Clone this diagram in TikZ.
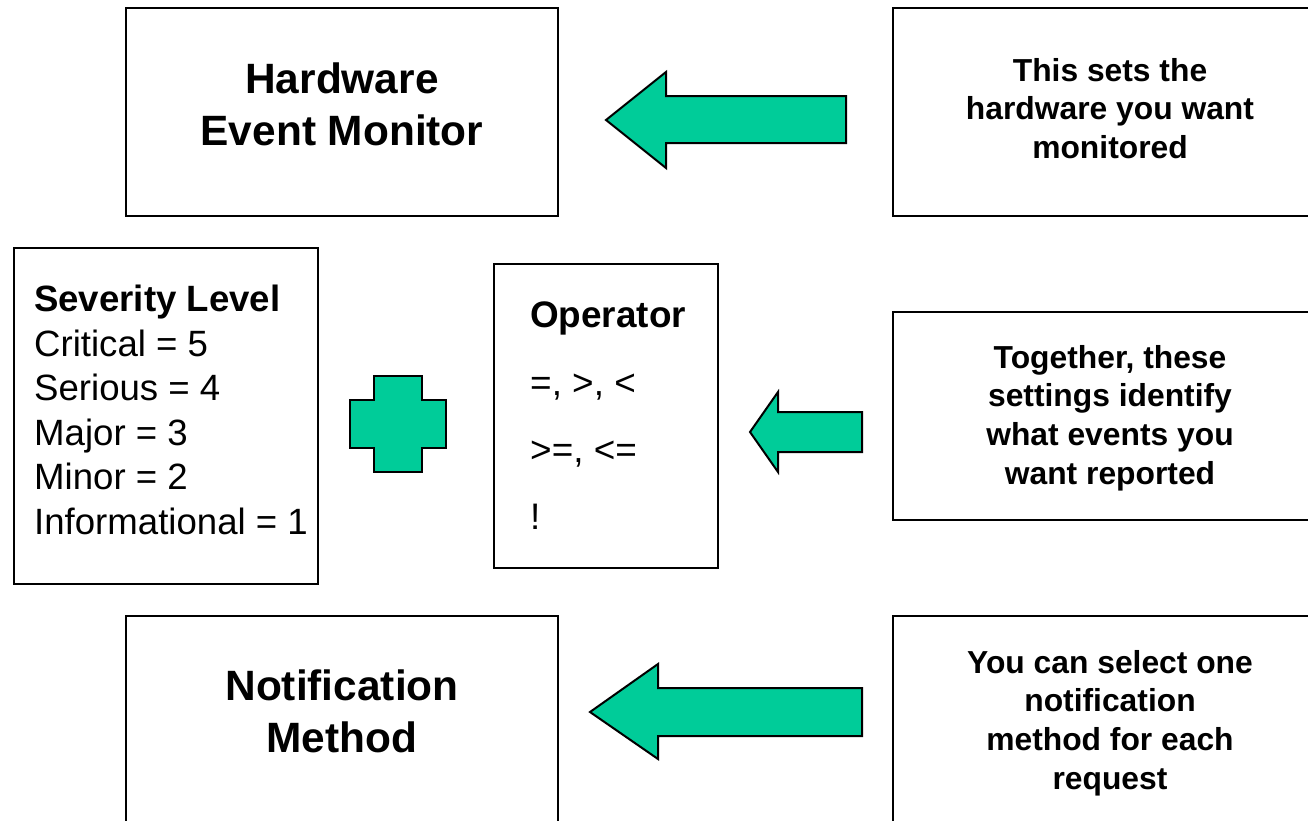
\documentclass[tikz,border=0pt]{standalone}
\usepackage{fontspec}
\setmainfont{Liberation Sans}
\definecolor{arrowgreen}{RGB}{0,204,153}
\tikzset{
  box/.style={draw=black, line width=2pt, fill=white, inner sep=0pt, minimum height=208pt},
  bigtxt/.style={align=center, inner sep=0pt, font=\fontsize{42.4}{52}\selectfont\bfseries},
  sidetxt/.style={align=center, inner sep=0pt, font=\fontsize{31.8}{38.7}\selectfont\bfseries},
  blockarrow/.style={draw=black, line width=2pt, fill=arrowgreen, line join=miter},
}
\begin{document}
\begin{tikzpicture}[x=1pt,y=-1pt]
\useasboundingbox (0,0) rectangle (1308,820);
\clip (0,0) rectangle (1308,820);
\fill[white] (0,0) rectangle (1308,820);
% boxes
\node[box, minimum width=432pt] (hem) at (342,112) {};
\node[box, minimum width=433pt] (tr) at (1109.5,112) {};
\node[box, minimum width=304pt, minimum height=336pt] (sev) at (166,416) {};
\node[box, minimum width=224pt, minimum height=304pt] (op) at (606,416) {};
\node[box, minimum width=433pt] (mr) at (1109.5,416) {};
\node[box, minimum width=432pt] (nm) at (342,720) {};
\node[box, minimum width=433pt] (br) at (1109.5,720) {};
% texts
\node[bigtxt] (hemt) at (342,104) {Hardware\\Event Monitor};
\node[bigtxt] (nmt) at (342,711) {Notification\\Method};
\node[sidetxt] (trt) at (1110,108.5) {This sets the\\hardware you want\\monitored};
\node[sidetxt] (mrt) at (1110,418) {Together, these\\settings identify\\what events you\\want reported};
\node[sidetxt] (brt) at (1110,723) {You can select one\\notification\\method for each\\request};
\node[anchor=north west, inner sep=0pt, align=left, font=\fontsize{36.6}{44.5}\selectfont] (sevt) at (34,285)
  {\textbf{Severity Level}\\Critical = 5\\Serious = 4\\Major = 3\\Minor = 2\\Informational = 1};
\node[anchor=north west, inner sep=0pt, align=left, font=\fontsize{36.9}{67.3}\selectfont] (opt) at (530,302)
  {\textbf{Operator}\\=, >, <\\>=, <=\\!};
% block arrows
\draw[blockarrow] (606,120) -- (666,72) -- (666,96) -- (846,96) -- (846,143) -- (666,143) -- (666,168) -- cycle;
\draw[blockarrow] (750,432) -- (778,392) -- (778,412) -- (862,412) -- (862,452) -- (778,452) -- (778,472) -- cycle;
\draw[blockarrow] (590,712) -- (658,664) -- (658,688) -- (862,688) -- (862,736) -- (658,736) -- (658,759) -- cycle;
% plus
\draw[blockarrow] (374,376) -- (422,376) -- (422,400) -- (446,400) -- (446,448) -- (422,448) -- (422,472) -- (374,472) -- (374,448) -- (350,448) -- (350,400) -- (374,400) -- cycle;
\end{tikzpicture}
\end{document}
